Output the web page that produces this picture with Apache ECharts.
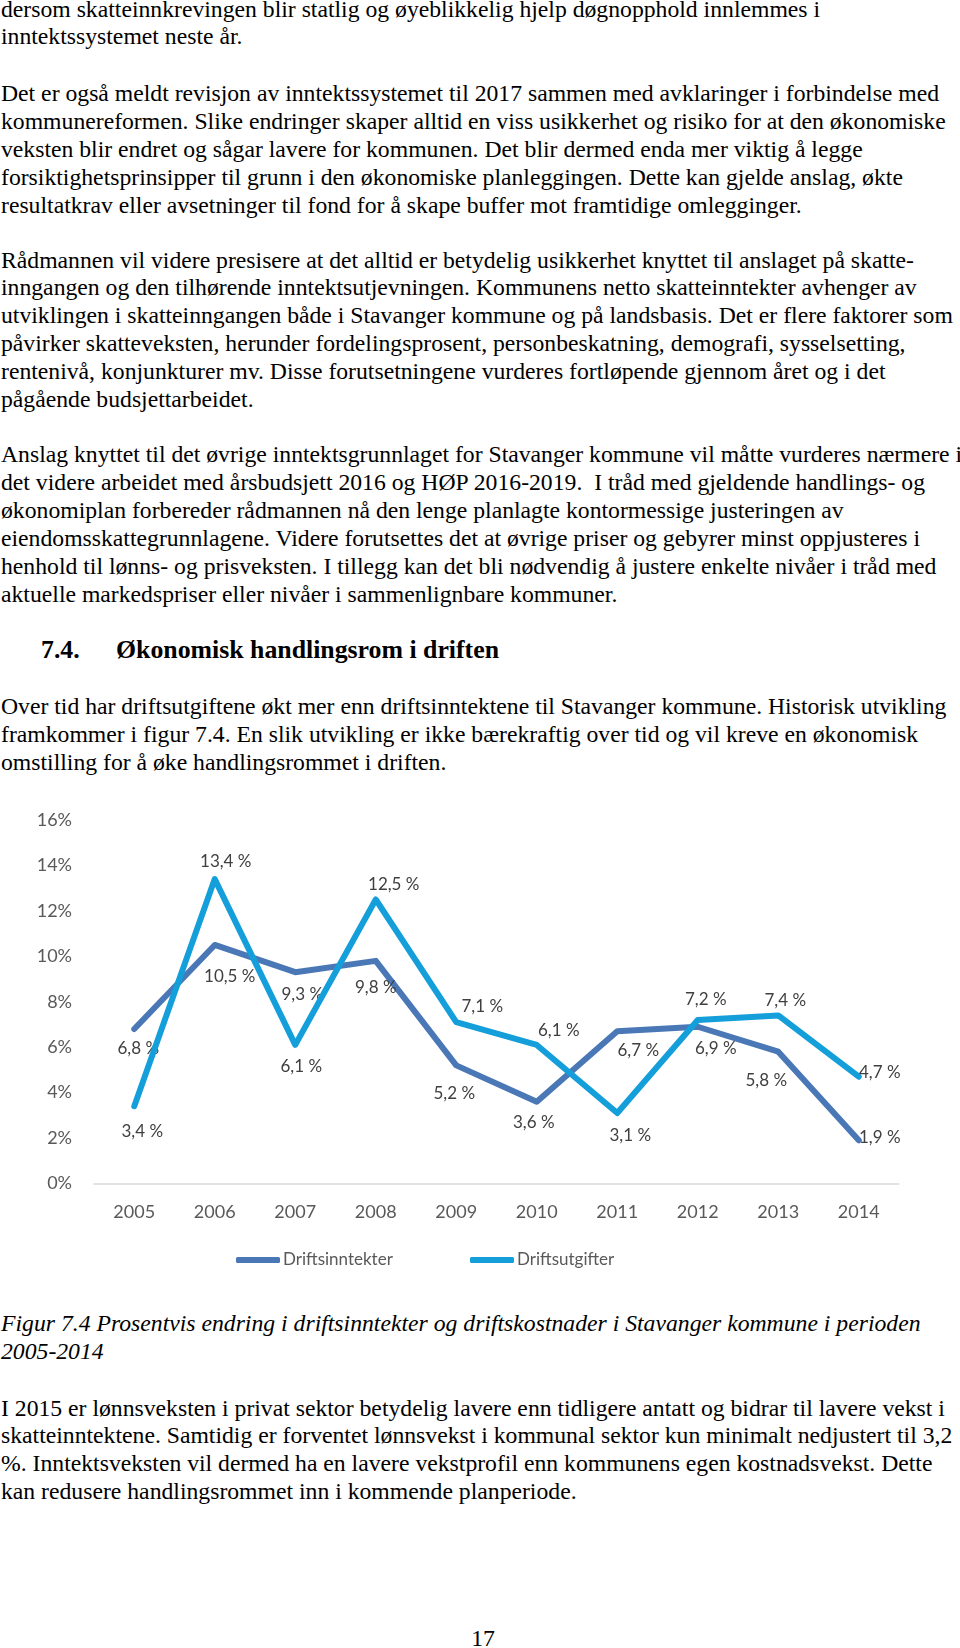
<!DOCTYPE html>
<html>
<head>
<meta charset="utf-8">
<script src="https://cdn.jsdelivr.net/npm/echarts@6/dist/echarts.min.js"></script>
<style>
  html, body { margin: 0; padding: 0; background: #fff; }
  body { width: 960px; height: 1648px; position: relative; overflow: hidden; }
  .ln { position: absolute; left: 1px; white-space: pre; font-family: "Liberation Serif", "Times New Roman", serif; font-size: 23.7px; line-height: 28px; color: #000; }
  .it { font-style: italic; }
  .hd { font-weight: bold; }
  #chart { position: absolute; left: 0; top: 780px; width: 960px; height: 500px; }
</style>
</head>
<body>
<div id="text"></div>
<div id="chart"></div>
<script>
// ---- data ----
const years = ['2005','2006','2007','2008','2009','2010','2011','2012','2013','2014'];
const driftsinntekter = [6.8, 10.5, 9.3, 9.8, 5.2, 3.6, 6.7, 6.9, 5.8, 1.9];
const driftsutgifter  = [3.4, 13.4, 6.1, 12.5, 7.1, 6.1, 3.1, 7.2, 7.4, 4.7];
const seriesNames = ['Driftsinntekter', 'Driftsutgifter'];
const yTicks = [0, 2, 4, 6, 8, 10, 12, 14, 16];

// ---- label placement (style) ----
const offInn = [[4,20],[15,32],[7,22],[0,27],[-2,28],[-3,21],[21,19],[18,22],[-12,29],[21,-3]];
const offUtg = [[8,25],[11,-18],[6,22],[18,-15],[26,-16],[22,-14],[13,22],[8,-20],[7,-15],[21,-4]];

// ---- page text ----
const paragraphs = [
  { base: 16.5, cls: '', lines: [
    'dersom skatteinnkrevingen blir statlig og øyeblikkelig hjelp døgnopphold innlemmes i',
    'inntektssystemet neste år.'] },
  { base: 101, cls: '', lines: [
    'Det er også meldt revisjon av inntektssystemet til 2017 sammen med avklaringer i forbindelse med',
    'kommunereformen. Slike endringer skaper alltid en viss usikkerhet og risiko for at den økonomiske',
    'veksten blir endret og sågar lavere for kommunen. Det blir dermed enda mer viktig å legge',
    'forsiktighetsprinsipper til grunn i den økonomiske planleggingen. Dette kan gjelde anslag, økte',
    'resultatkrav eller avsetninger til fond for å skape buffer mot framtidige omlegginger.'] },
  { base: 267.5, cls: '', lines: [
    'Rådmannen vil videre presisere at det alltid er betydelig usikkerhet knyttet til anslaget på skatte-',
    'inngangen og den tilhørende inntektsutjevningen. Kommunens netto skatteinntekter avhenger av',
    'utviklingen i skatteinngangen både i Stavanger kommune og på landsbasis. Det er flere faktorer som',
    'påvirker skatteveksten, herunder fordelingsprosent, personbeskatning, demografi, sysselsetting,',
    'rentenivå, konjunkturer mv. Disse forutsetningene vurderes fortløpende gjennom året og i det',
    'pågående budsjettarbeidet.'] },
  { base: 462, cls: '', lines: [
    'Anslag knyttet til det øvrige inntektsgrunnlaget for Stavanger kommune vil måtte vurderes nærmere i',
    'det videre arbeidet med årsbudsjett 2016 og HØP 2016-2019.  I tråd med gjeldende handlings- og',
    'økonomiplan forbereder rådmannen nå den lenge planlagte kontormessige justeringen av',
    'eiendomsskattegrunnlagene. Videre forutsettes det at øvrige priser og gebyrer minst oppjusteres i',
    'henhold til lønns- og prisveksten. I tillegg kan det bli nødvendig å justere enkelte nivåer i tråd med',
    'aktuelle markedspriser eller nivåer i sammenlignbare kommuner.'] },
  { base: 714, cls: '', lines: [
    'Over tid har driftsutgiftene økt mer enn driftsinntektene til Stavanger kommune. Historisk utvikling',
    'framkommer i figur 7.4. En slik utvikling er ikke bærekraftig over tid og vil kreve en økonomisk',
    'omstilling for å øke handlingsrommet i driften.'] },
  { base: 1331, cls: 'it', lines: [
    'Figur 7.4 Prosentvis endring i driftsinntekter og driftskostnader i Stavanger kommune i perioden',
    '2005-2014'] },
  { base: 1415.5, cls: '', lines: [
    'I 2015 er lønnsveksten i privat sektor betydelig lavere enn tidligere antatt og bidrar til lavere vekst i',
    'skatteinntektene. Samtidig er forventet lønnsvekst i kommunal sektor kun minimalt nedjustert til 3,2',
    '%. Inntektsveksten vil dermed ha en lavere vekstprofil enn kommunens egen kostnadsvekst. Dette',
    'kan redusere handlingsrommet inn i kommende planperiode.'] }
];
const headingNum = '7.4.';
const headingText = 'Økonomisk handlingsrom i driften';
const pageNumber = '17';

const BODY_FS = 23.7;
const LH = 27.9;
const container = document.getElementById('text');
function baselineTop(base, fs, lh) {
  // Liberation Serif ascent .891, descent .216
  return base - ((lh - 1.107 * fs) / 2 + 0.891 * fs);
}
paragraphs.forEach(p => {
  p.lines.forEach((t, i) => {
    const d = document.createElement('div');
    d.className = 'ln ' + p.cls;
    d.textContent = t;
    d.style.top = baselineTop(p.base + i * LH, BODY_FS, 28) + 'px';
    container.appendChild(d);
  });
});
function addAbs(text, left, base, cls, fs, center) {
  const d = document.createElement('div');
  d.className = 'ln ' + cls;
  d.textContent = text;
  d.style.fontSize = fs + 'px';
  d.style.top = baselineTop(base, fs, 28) + 'px';
  d.style.left = left + 'px';
  if (center) d.style.transform = 'translateX(-50%)';
  container.appendChild(d);
}
addAbs(headingNum, 41, 659, 'hd', 25.8);
addAbs(headingText, 116, 659, 'hd', 25.8);
addAbs(pageNumber, 483, 1646, '', BODY_FS, true);

// ---- chart ----
const chart = echarts.init(document.getElementById('chart'), null, { renderer: 'canvas' });
const fmt = v => v.toFixed(1).replace('.', ',') + ' %';
function mkData(vals, offs) {
  return vals.map((v, i) => ({ value: v, label: { offset: offs[i] } }));
}
const labelBase = {
  show: true, position: 'inside', color: '#404040',
  fontFamily: 'Lato', fontSize: 17,
  formatter: p => fmt(p.value)
};
chart.setOption({
  animation: false,
  textStyle: { fontFamily: 'Lato' },
  grid: { left: 94, right: 61, top: 40, bottom: 96.5, containLabel: false },
  legend: {
    data: seriesNames,
    left: 231, top: 466,
    icon: 'roundRect', itemWidth: 44, itemHeight: 6, itemGap: 72,
    textStyle: { color: '#595959', fontFamily: 'Lato', fontSize: 17, width: 115, lineHeight: 18, padding: [0,0,0,-2] }
  },
  xAxis: {
    type: 'category', data: years, boundaryGap: true,
    axisLine: { show: true, lineStyle: { color: '#d9d9d9', width: 1.5 } },
    axisTick: { show: false },
    axisLabel: { color: '#595959', fontFamily: 'Lato', fontSize: 18, margin: 20 }
  },
  yAxis: {
    type: 'value', min: yTicks[0], max: yTicks[yTicks.length - 1], interval: 2,
    axisLine: { show: false }, axisTick: { show: false }, splitLine: { show: false },
    axisLabel: { color: '#595959', fontFamily: 'Lato', fontSize: 18, margin: 22, formatter: '{value}%' }
  },
  series: [
    {
      name: seriesNames[0], type: 'line', data: mkData(driftsinntekter, offInn),
      symbol: 'circle', symbolSize: 1, showSymbol: true, showAllSymbol: true,
      lineStyle: { color: '#4a78b6', width: 6, cap: 'round', join: 'round' },
      itemStyle: { color: '#4a78b6' },
      label: labelBase, z: 2
    },
    {
      name: seriesNames[1], type: 'line', data: mkData(driftsutgifter, offUtg),
      symbol: 'circle', symbolSize: 1, showSymbol: true, showAllSymbol: true,
      lineStyle: { color: '#149fda', width: 6, cap: 'round', join: 'round' },
      itemStyle: { color: '#149fda' },
      label: labelBase, z: 3
    }
  ]
});
</script>
</body>
</html>
